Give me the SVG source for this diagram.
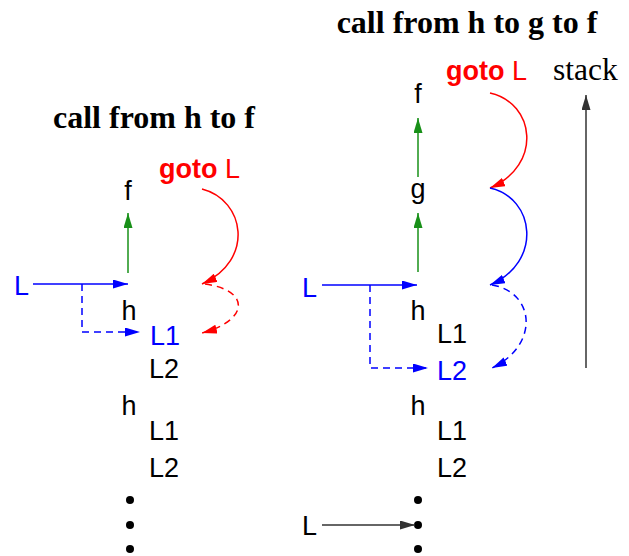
<svg xmlns="http://www.w3.org/2000/svg" width="629" height="556" viewBox="0 0 629 556">
<style>
.title{font-family:"Liberation Serif",serif;font-weight:bold;font-size:32px;fill:#000}
.serif{font-family:"Liberation Serif",serif;font-size:31.5px;fill:#000}
.lab{font-family:"Liberation Sans",Arial,sans-serif;font-size:27px;fill:#000}
.blue{fill:#0000ff}
.red{fill:#ff0000}
.ln{fill:none;stroke-width:1.5}
.bl{stroke:#0000ff}
.rd{stroke:#ff0000}
.gr{stroke:#189018}
.gy{stroke:#333}
.dash{stroke-dasharray:7 5}
</style>
<defs>
<marker id="ab" markerUnits="userSpaceOnUse" markerWidth="15" markerHeight="9" refX="15" refY="4.5" orient="auto"><path d="M0,0 L15,4.5 L0,9 z" fill="#0000ff"/></marker>
<marker id="ar" markerUnits="userSpaceOnUse" markerWidth="15" markerHeight="9" refX="15" refY="4.5" orient="auto"><path d="M0,0 L15,4.5 L0,9 z" fill="#ff0000"/></marker>
<marker id="ag" markerUnits="userSpaceOnUse" markerWidth="15" markerHeight="9" refX="15" refY="4.5" orient="auto"><path d="M0,0 L15,4.5 L0,9 z" fill="#189018"/></marker>
<marker id="ak" markerUnits="userSpaceOnUse" markerWidth="15" markerHeight="9" refX="15" refY="4.5" orient="auto"><path d="M0,0 L15,4.5 L0,9 z" fill="#333"/></marker>
</defs>

<g id="left-panel">
<text class="title" x="154" y="128" text-anchor="middle">call from h to f</text>
<text id="l-goto" class="lab red" x="159" y="178"><tspan font-weight="bold">goto</tspan> L</text>
<text id="l-f" class="lab" x="128" y="200" text-anchor="middle">f</text>
<text id="l-L" class="lab blue" x="14" y="295">L</text>
<text id="l-h1" class="lab" x="129" y="320" text-anchor="middle">h</text>
<text id="l-L1a" class="lab blue" x="150" y="345">L1</text>
<text id="l-L2a" class="lab" x="149" y="378">L2</text>
<text id="l-h2" class="lab" x="129" y="415" text-anchor="middle">h</text>
<text id="l-L1b" class="lab" x="149" y="440">L1</text>
<text id="l-L2b" class="lab" x="149" y="477">L2</text>
<g id="l-dots"><circle cx="130" cy="500" r="4"/><circle cx="130" cy="525" r="4"/><circle cx="130" cy="549" r="4"/></g>
</g>

<g id="right-panel">
<text class="title" x="467" y="33" text-anchor="middle">call from h to g to f</text>
<text id="r-goto" class="lab red" x="446" y="80"><tspan font-weight="bold">goto</tspan> L</text>
<text id="r-stack" class="serif" x="553" y="80">stack</text>
<text id="r-f" class="lab" x="418" y="103" text-anchor="middle">f</text>
<text id="r-g" class="lab" x="418" y="198" text-anchor="middle">g</text>
<text id="r-L" class="lab blue" x="302" y="297">L</text>
<text id="r-h1" class="lab" x="418" y="320" text-anchor="middle">h</text>
<text id="r-L1a" class="lab" x="437" y="343">L1</text>
<text id="r-L2a" class="lab blue" x="437" y="380">L2</text>
<text id="r-h2" class="lab" x="418" y="415" text-anchor="middle">h</text>
<text id="r-L1b" class="lab" x="437" y="440">L1</text>
<text id="r-L2b" class="lab" x="437" y="477">L2</text>
<text id="r-Lb" class="lab" x="302" y="535">L</text>
<g id="r-dots"><circle cx="418" cy="500" r="4"/><circle cx="418" cy="525" r="4"/><circle cx="418" cy="549" r="4"/></g>
</g>

<g id="connectors">
<path class="ln gr" d="M128,273 V213" marker-end="url(#ag)"/>
<path class="ln bl" d="M33,284 H128" marker-end="url(#ab)"/>
<path class="ln bl dash" d="M82,284 V332 H140" marker-end="url(#ab)"/>
<path class="ln rd" d="M202,189 C245,200 255,260 202,284" marker-end="url(#ar)"/>
<path class="ln rd dash" d="M205,284 C250,290 250,320 202,333" marker-end="url(#ar)"/>

<path class="ln gy" d="M586,368 V95" marker-end="url(#ak)"/>
<path class="ln gr" d="M418,177 V118" marker-end="url(#ag)"/>
<path class="ln gr" d="M418,272 V213" marker-end="url(#ag)"/>
<path class="ln bl" d="M322,285 H417" marker-end="url(#ab)"/>
<path class="ln bl dash" d="M370,285 V368 H428" marker-end="url(#ab)"/>
<path class="ln rd" d="M490,93 C535,103 543,165 490,188" marker-end="url(#ar)"/>
<path class="ln bl" d="M490,188 C535,198 543,262 490,285" marker-end="url(#ab)"/>
<path class="ln bl dash" d="M492,285 C535,292 540,345 492,368" marker-end="url(#ab)"/>
<path class="ln gy" d="M322,525 H415" marker-end="url(#ak)"/>
</g>
</svg>
